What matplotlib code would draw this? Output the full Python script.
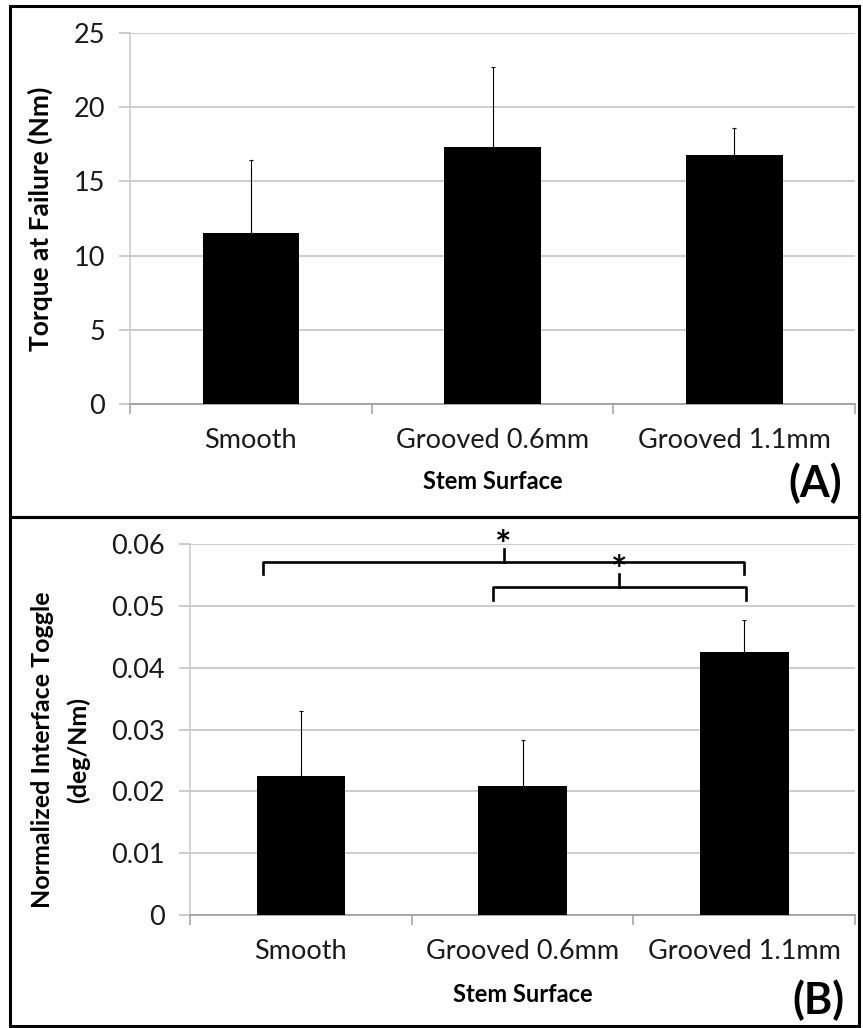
import matplotlib
matplotlib.use("Agg")
import matplotlib.pyplot as plt
from matplotlib.patches import Rectangle

# --- data ---
categories = ["Smooth", "Grooved 0.6mm", "Grooved 1.1mm"]
torque_mean = [11.55, 17.35, 16.8]
torque_err = [4.9, 5.33, 1.78]
toggle_mean = [0.0224, 0.0209, 0.0425]
toggle_err = [0.0106, 0.0074, 0.0052]

# significance brackets for panel B: (x left, x right, level)
bracket_left = [-0.17, 0.865]
bracket_right = [2.0, 2.01]
bracket_level = [0.0571, 0.0530]

W, H = 863, 1028
plt.rcParams["font.family"] = ["Lato", "DejaVu Sans"]
grid_col = "#c8c8c8"
axis_col = "#a0a0a0"

fig = plt.figure(figsize=(W / 100, H / 100), dpi=100)


def px_axes(x0, y0, x1, y1):
    # pixel box (top-left origin) -> figure fraction axes
    return fig.add_axes([x0 / W, 1 - y1 / H, (x1 - x0) / W, (y1 - y0) / H])


def style_axes(ax, ymax, step, fmt):
    ax.set_xlim(-0.5, 2.5)
    ax.set_ylim(0, ymax)
    ticks = [i * step for i in range(int(round(ymax / step)) + 1)]
    ax.set_yticks(ticks)
    ax.set_yticklabels([fmt(t) for t in ticks])
    ax.set_xticks(range(len(categories)))
    ax.set_xticklabels(categories)
    ax.set_xticks([-0.5, 0.5, 1.5, 2.5], minor=True)
    ax.tick_params(axis="x", which="major", length=0, pad=17, labelsize=19.5, labelcolor="#1a1a1a")
    ax.tick_params(axis="x", which="minor", length=7, width=1.1, color=axis_col, direction="out")
    ax.tick_params(axis="y", length=8, width=1.3, color=grid_col, pad=10, labelsize=19.5, labelcolor="#1a1a1a")
    ax.grid(axis="y", color=grid_col, lw=1.3)
    ax.set_axisbelow(True)
    for s in ["top", "right"]:
        ax.spines[s].set_visible(False)
    ax.spines["left"].set_color(grid_col)
    ax.spines["bottom"].set_color(axis_col)
    ax.spines["left"].set_linewidth(1.1)
    ax.spines["bottom"].set_linewidth(1.3)


# --- panel A ---
axA = px_axes(130, 33, 855, 404)
style_axes(axA, 25, 5, lambda t: f"{t:g}")
axA.bar(range(3), torque_mean, width=0.4, color="black", zorder=3)
axA.errorbar(range(3), torque_mean, yerr=[[0, 0, 0], torque_err], fmt="none",
             ecolor="black", elinewidth=0.8, capsize=1.5, capthick=0.8, zorder=4)
axA.set_ylabel("Torque at Failure (Nm)", fontsize=19, fontweight="bold")
axA.yaxis.set_label_coords(-(130 - 40) / 725, 0.5)
axA.yaxis.label.set_va("center")
axA.set_xlabel("Stem Surface", fontsize=17, fontweight="bold")
axA.xaxis.set_label_coords(0.5, -(482 - 404) / 371, transform=axA.transAxes)
axA.xaxis.label.set_va("center")
fig.text(815 / W, 1 - 483 / H, "(A)", fontsize=31, fontweight="bold", ha="center", va="center")

# --- panel B ---
axB = px_axes(190, 544, 855, 915)
style_axes(axB, 0.06, 0.01, lambda t: "0" if t == 0 else f"{t:.2f}")
axB.bar(range(3), toggle_mean, width=0.4, color="black", zorder=3)
axB.errorbar(range(3), toggle_mean, yerr=[[0, 0, 0], toggle_err], fmt="none",
             ecolor="black", elinewidth=0.8, capsize=1.5, capthick=0.8, zorder=4)
axB.set_xlabel("Stem Surface", fontsize=17, fontweight="bold")
axB.xaxis.set_label_coords(0.5, -(995 - 915) / 371, transform=axB.transAxes)
axB.xaxis.label.set_va("center")
fig.text(42 / W, 1 - 750 / H, "Normalized Interface Toggle", fontsize=18,
         fontweight="bold", rotation=90, ha="center", va="center")
fig.text(78 / W, 1 - 750 / H, "(deg/Nm)", fontsize=18,
         fontweight="bold", rotation=90, ha="center", va="center")
fig.text(818 / W, 1 - 1000 / H, "(B)", fontsize=31, fontweight="bold", ha="center", va="center")

for xl, xr, lev in zip(bracket_left, bracket_right, bracket_level):
    xm = (xl + xr) / 2
    axB.plot([xl, xl, xr, xr], [lev - 0.002, lev, lev, lev - 0.002],
             color="black", lw=1.9, clip_on=False, zorder=5, solid_joinstyle="round")
    axB.plot([xm, xm], [lev, lev + 0.0021], color="black", lw=1.9, clip_on=False, zorder=5)
    axB.text(xm, lev + 0.0025, "*", fontsize=28, fontweight="bold", ha="center",
             va="center", clip_on=False)

# --- panel frames ---
fig.patches.append(Rectangle((10 / W, 1 - 517 / H), 849 / W, 511 / H, transform=fig.transFigure,
                             fill=False, lw=2.2, ec="black"))
fig.patches.append(Rectangle((10 / W, 1 - 1026 / H), 849 / W, 509 / H, transform=fig.transFigure,
                             fill=False, lw=2.2, ec="black"))

fig.savefig("out.png", dpi=100)
